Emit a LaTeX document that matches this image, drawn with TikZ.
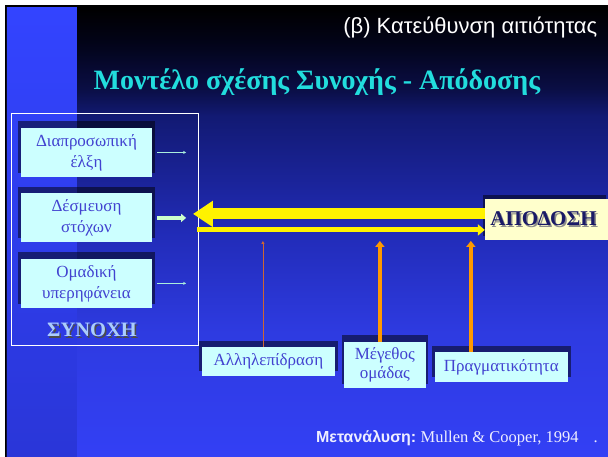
\documentclass[tikz,border=0pt]{standalone}
\usepackage{fontspec}
\setmainfont{Liberation Serif}
\setsansfont{Liberation Sans}
\usetikzlibrary{arrows.meta,shadows}

\definecolor{boxfill}{HTML}{CCFFFF}
\definecolor{boxtext}{HTML}{4242D0}
\definecolor{apfill}{HTML}{FFFFCC}
\definecolor{aptext}{HTML}{1A1A66}
\definecolor{titlecyan}{HTML}{22DDDD}
\definecolor{stripblue}{HTML}{3344FF}
\definecolor{stripdark}{HTML}{2A36D8}
\definecolor{synblue}{HTML}{AACCFF}
\definecolor{arrorange}{HTML}{FF9900}
\definecolor{thinorange}{HTML}{CC6633}
\definecolor{smallarr}{HTML}{AAEEDD}
\definecolor{midarr}{HTML}{CCFFCC}
\definecolor{footwhite}{HTML}{EEEEFF}

\pgfdeclareverticalshading{slidebg}{100bp}{rgb(0bp)=(0.2,0.25,0.96); rgb(25bp)=(0.2,0.25,0.96); rgb(39bp)=(0.18,0.23,0.88); rgb(50bp)=(0.13,0.17,0.72); rgb(63bp)=(0.07,0.1,0.45); rgb(66bp)=(0.04,0.055,0.27); rgb(71bp)=(0.01,0.015,0.1); rgb(75bp)=(0,0,0); rgb(100bp)=(0,0,0)}

\newcommand{\shadowed}[2]{\makebox[0pt][l]{\hspace{1.5pt}\raisebox{-1.5pt}{\color{#1}#2}}#2}

\begin{document}
\begin{tikzpicture}
  [x=1pt,y=-1pt,align=center,node distance=65.5pt,
   cbox/.style={fill=boxfill,text=boxtext,font=\fontsize{17}{21}\selectfont,
     minimum width=131pt,minimum height=49pt,inner sep=1pt,
     drop shadow={shadow scale=1.05,shadow xshift=0pt,shadow yshift=5pt,fill=black,opacity=.5}},
   lowbox/.style={cbox,minimum height=29pt},
   smallarrow/.style={smallarr,line width=.6pt,-{Stealth[length=3pt,width=3pt]}},
   yellowfat/.style={yellow,line width=11pt,-{Triangle[length=20pt,width=25pt]}},
   yellowthin/.style={yellow,line width=5pt,-{Triangle[length=7pt,width=11pt]}},
   orangearrow/.style={arrorange,line width=4pt,-{Triangle[length=6pt,width=9pt]}}]

  \fill[white] (0,0) rectangle (608,457);
  \fill[black] (5,5) rectangle (608,457);
  \shade[shading=slidebg] (7,8) rectangle (608,457);
  \shade[top color=stripblue,bottom color=stripdark] (7,8) rectangle (77,457);

  \node (header) [anchor=east,text=white,font=\sffamily\fontsize{22}{26}\selectfont] at (601,28) {(β) Κατεύθυνση αιτιότητας};
  \node (title) [text=titlecyan,font=\bfseries\fontsize{28}{32}\selectfont] at (317,82) {Μοντέλο σχέσης Συνοχής - Απόδοσης};

  \node (frame) [draw=white,line width=.9pt,minimum width=188pt,minimum height=233pt] at (105,229.5) {};

  \node (goal) [cbox] at (86.5,218) {Δέσμευση\\στόχων};
  \node (attract) [cbox,above of=goal] {Διαπροσωπική\\έλξη};
  \node (pride) [cbox,below of=goal] {Ομαδική\\υπερηφάνεια};
  \node (synoxi) [font=\bfseries\fontsize{20.5}{24}\selectfont,text=synblue] at (92,331) {\shadowed{black!70}{ΣΥΝΟΧΗ}};

  \node (apodosi) [fill=apfill,anchor=west,minimum width=123pt,minimum height=41pt,inner sep=0pt,
    font=\bfseries\fontsize{21}{25}\selectfont,text=aptext,
    drop shadow={shadow xshift=-2pt,shadow yshift=4pt,fill=black,opacity=.5}] at (485,219.5) {\shadowed{black!45}{ΑΠΟΔΟΣΗ}\hspace{6pt}};

  \node (inter) [lowbox,minimum width=133pt] at (268.5,361.5) {Αλληλεπίδραση};
  \node (size) [cbox,minimum width=82pt,minimum height=46pt,font=\fontsize{17}{19}\selectfont] at (385,365) {Μέγεθος\\ομάδας};
  \node (reality) [lowbox,minimum width=133pt,minimum height=30pt] at (501.5,367) {Πραγματικότητα};

  \node (meta) [anchor=west,text=footwhite,inner sep=0pt] at (316,438) {\sffamily\bfseries\fontsize{16}{19}\selectfont Μετανάλυση:\ \rmfamily\mdseries\fontsize{16.5}{19}\selectfont Mullen \& Cooper, 1994\hspace{15pt}.};

  \coordinate (goalin) at (193,214);
  \coordinate (goalout) at (197,230);
  \coordinate (intertip) at (263,241);
  \coordinate (sizetip) at (380,241);
  \coordinate (realtip) at (471,241);

  \draw [smallarrow] ([xshift=5pt]attract.east) -- ++(29,0);
  \draw [smallarrow] ([xshift=5pt]pride.east) -- ++(29,0);
  \draw [midarr,line width=3.5pt,-{Triangle[length=5pt,width=8pt]}] ([xshift=5pt]goal.east) -- ++(29,0);

  \draw [yellowfat] (apodosi.west |- goalin) -- (goalin);
  \draw [yellowthin] (goalout) -- (apodosi.west |- goalout);

  \draw [thinorange,line width=.8pt,-{Triangle[length=3pt,width=3pt]}] (inter.north -| intertip) -- (intertip);
  \draw [orangearrow] (size.north -| sizetip) -- (sizetip);
  \draw [orangearrow] (reality.north -| realtip) -- (realtip);
\end{tikzpicture}
\end{document}
